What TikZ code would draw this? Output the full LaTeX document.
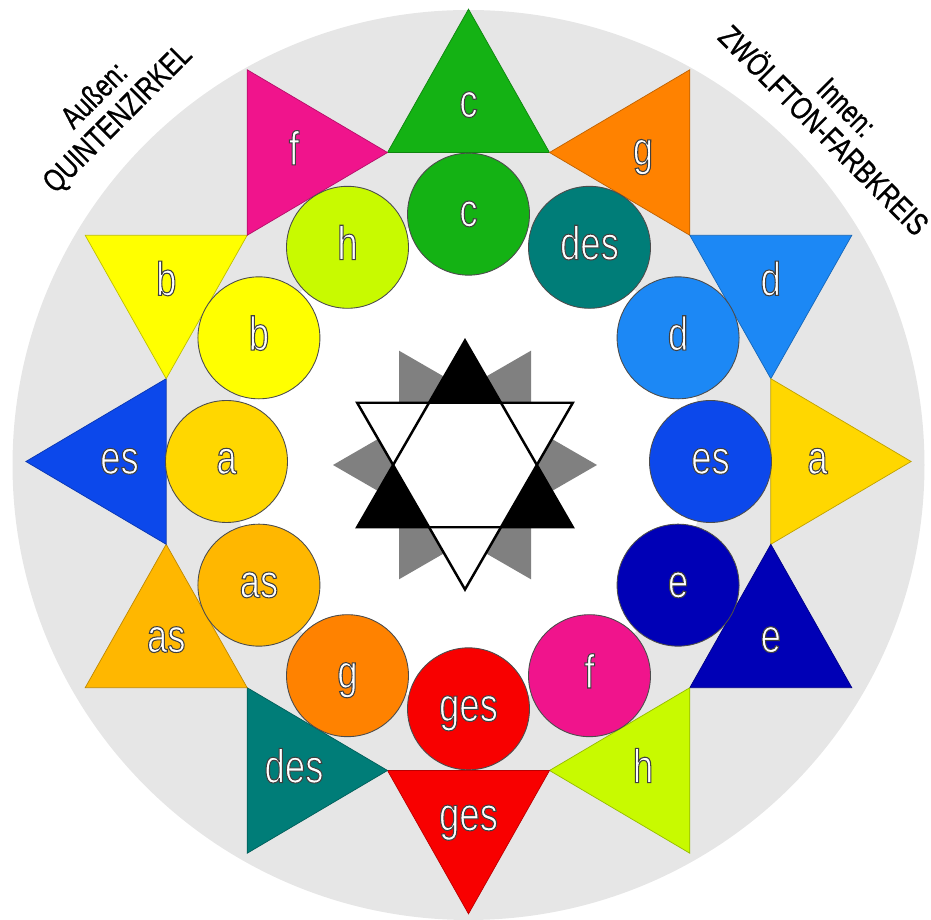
\documentclass[tikz,border=0pt]{standalone}
\usepackage{fontspec}
\setmainfont{Liberation Sans}
\newfontfamily\notefont[FakeStretch=0.77]{Liberation Sans}
\newfontfamily\capfont[FakeStretch=0.77, FakeBold=0.8]{Liberation Sans}
\usetikzlibrary{calc, positioning}

\definecolor{tonC}{RGB}{20,178,20}
\definecolor{tonDes}{RGB}{0,125,120}
\definecolor{tonD}{RGB}{28,136,245}
\definecolor{tonEs}{RGB}{12,72,235}
\definecolor{tonE}{RGB}{0,0,182}
\definecolor{tonF}{RGB}{240,20,140}
\definecolor{tonGes}{RGB}{248,0,0}
\definecolor{tonG}{RGB}{255,130,0}
\definecolor{tonAs}{RGB}{255,183,0}
\definecolor{tonA}{RGB}{255,215,0}
\definecolor{tonB}{RGB}{255,255,0}
\definecolor{tonH}{RGB}{200,250,0}
\definecolor{ringgray}{RGB}{230,230,230}

% weisse Schrift mit dunkler Kontur
\newcommand{\umriss}[1]{\special{pdf:literal direct 2 Tr 0.6 w 0.25 0.25 0.25 RG}#1\special{pdf:literal direct 0 Tr}}

\begin{document}
\begin{tikzpicture}[
    x=0.02cm, y=0.02cm,
    notelabel/.style={text=white, inner sep=0pt, text height=20pt, text depth=6pt,
        font=\notefont\fontsize{27}{27}\selectfont},
    tone/.style={circle, draw=black!70, line width=0.5pt, minimum size=2.44cm, inner sep=0pt, fill=#1},
    fifth/.style={draw=#1!75!black, line width=0.4pt, fill=#1},
    caption/.style={align=center, inner sep=0pt, font=\capfont\fontsize{18}{18.5}\selectfont}
]
\useasboundingbox (0,0) rectangle (931,920);

% Scheibe
\fill[ringgray] (468.5,455) ellipse[x radius=456, y radius=455];

\begin{scope}[shift={(468.5,458.5)}, yscale=1.022]
\fill[white] (0,0) circle[radius=236];

% Aussen: Quintenzirkel
\foreach \ang/\nam/\col [count=\i] in {90/c/tonC, 60/g/tonG, 30/d/tonD, 0/a/tonA,
    -30/e/tonE, -60/h/tonH, -90/ges/tonGes, -120/des/tonDes, -150/as/tonAs,
    -180/es/tonEs, -210/b/tonB, -240/f/tonF}{
  \path[fifth=\col] (\ang+15:313) -- (\ang:442.6) -- (\ang-15:313) -- cycle;
  \node[notelabel] (q\i) at (\ang:349) {\umriss{\nam}};
}

% Innen: Zwoelfton-Farbkreis
\foreach \ang/\nam/\col [count=\i] in {90/c/tonC, 60/des/tonDes, 30/d/tonD, 0/es/tonEs,
    -30/e/tonE, -60/f/tonF, -90/ges/tonGes, -120/g/tonG, -150/as/tonAs,
    -180/a/tonA, -210/b/tonB, -240/h/tonH}{
  \node[tone=\col, notelabel] (z\i) at (\ang:242) {\umriss{\nam}};
}
\end{scope}

% Stern in der Mitte
\begin{scope}[shift={(465,455)}]
\fill[black!50] (0:132) -- (120:132) -- (240:132) -- cycle;
\fill[black!50] (60:132) -- (180:132) -- (300:132) -- cycle;
\fill[black] (90:124.5) -- (210:124.5) -- (330:124.5) -- cycle;
\draw[line width=1.4pt, fill=white, line join=miter] (30:124.5) -- (150:124.5) -- (270:124.5) -- cycle;
\draw[line width=1.4pt] (90:124.5) -- (210:124.5) -- (330:124.5) -- cycle;
\end{scope}

% Beschriftung
\node[caption, rotate=45] (aussen) at (107,812) {Außen:\\QUINTENZIRKEL};
\node[caption, rotate=-45] (innen) at (835,801) {Innen:\\ZWÖLFTON-FARBKREIS};

\end{tikzpicture}
\end{document}
